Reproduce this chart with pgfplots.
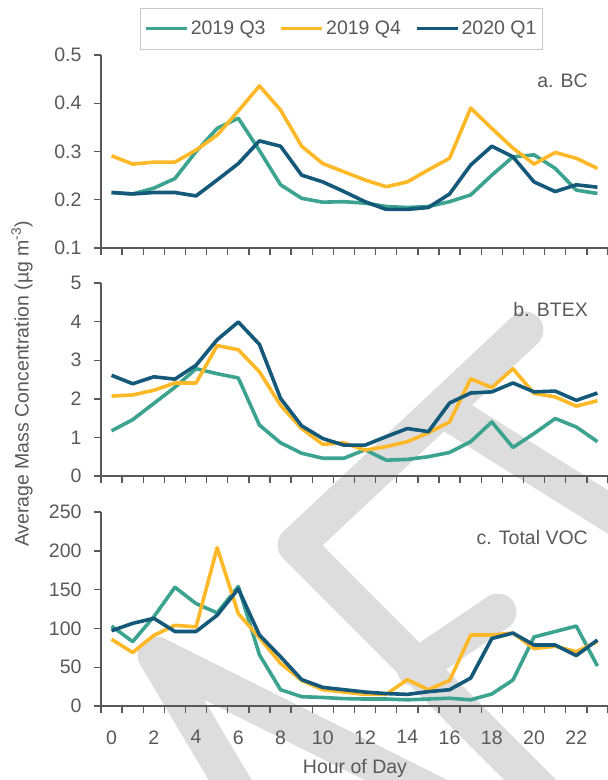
\documentclass[border=0pt]{standalone}
\usepackage{pgfplots}
\pgfplotsset{compat=1.18}
\usepackage{fontspec}
\setmainfont{Liberation Sans}
\definecolor{cQ3}{RGB}{59,163,143}
\definecolor{cQ4}{RGB}{255,185,40}
\definecolor{cQ1}{RGB}{20,88,122}
\definecolor{axgray}{RGB}{89,89,89}
\definecolor{wm}{RGB}{221,221,221}
\definecolor{lgborder}{RGB}{200,200,200}
\newcommand{\ff}{\fontsize{19.5}{22}\selectfont}

\pgfplotstableread{
h bcA bcB bcC btA btB btC vA vB vC
0 0.215 0.291 0.215 1.17 2.07 2.61 103 86 97
1 0.212 0.274 0.212 1.46 2.10 2.39 83 69 106.5
2 0.224 0.278 0.215 1.88 2.22 2.57 115 91 113
3 0.244 0.278 0.215 2.30 2.41 2.51 153 104 96
4 0.300 0.303 0.208 2.78 2.41 2.87 132 102 96
5 0.348 0.334 0.241 2.65 3.38 3.53 120 204 117
6 0.369 0.384 0.275 2.54 3.27 3.99 154 119 151
7 0.302 0.436 0.322 1.32 2.70 3.41 66 88 91.5
8 0.231 0.386 0.311 0.86 1.83 2.01 21 55 63.5
9 0.203 0.311 0.251 0.59 1.23 1.30 12 33 34
10 0.195 0.275 0.237 0.46 0.82 0.97 11 21 24
11 0.196 0.258 0.217 0.46 0.86 0.80 9.5 18 21
12 0.193 0.241 0.196 0.68 0.67 0.80 9 15 18
13 0.186 0.227 0.180 0.41 0.76 1.02 9 15 16
14 0.184 0.237 0.180 0.43 0.89 1.23 8 34 15
15 0.186 0.262 0.184 0.50 1.12 1.15 9 21 18.5
16 0.196 0.286 0.212 0.61 1.40 1.89 10 33 21
17 0.210 0.390 0.272 0.89 2.52 2.15 8 91.5 36
18 0.251 0.348 0.311 1.40 2.29 2.18 15.5 91.5 87
19 0.289 0.307 0.289 0.74 2.78 2.41 33.5 94 94
20 0.293 0.274 0.237 1.10 2.14 2.18 89 74 78.6
21 0.265 0.298 0.217 1.49 2.05 2.20 96 77 78.6
22 0.220 0.286 0.231 1.27 1.81 1.96 103 70 65
23 0.213 0.265 0.226 0.89 1.95 2.15 51.5 83 85
}\data

\tikzset{ptitle/.style={anchor=east, inner sep=0pt, font=\ff, text=axgray}}
\pgfplotsset{
  panel/.style={
    scale only axis, width=507pt, anchor=south west,
    xmin=-0.5, xmax=23.5,
    axis x line*=bottom, axis y line*=left,
    axis line style={axgray, line width=1.8pt},
    xtick={-0.5,0.5,...,23.5}, xticklabels={},
    tick align=outside,
    major tick length=7pt,
    tick style={axgray, line width=1.4pt},
    tick label style={font=\ff, text=axgray},
    yticklabel style={xshift=-9pt},
    /pgf/number format/assume math mode=true,
    every axis plot/.append style={line width=3.6pt, line join=round, no markers},
    clip=false,
  },
}

\begin{document}
\begin{tikzpicture}
\useasboundingbox (0,0) rectangle (608pt,-780pt);
\begin{scope}[x=1pt,y=-1pt]
\clip (0,0) rectangle (608,780);
\draw[wm, line width=37pt, line cap=round, line join=round] (525,330) -- (296,545) -- (575,825);
\draw[wm, line width=37pt, line cap=round, line join=round] (448,412) -- (640,532);
\draw[wm, line width=37pt, line cap=round, line join=round] (498,612) -- (415,668);
\draw[wm, line width=37pt, line cap=round, line join=round] (258,827) -- (156,655) -- (520,837);
\end{scope}

% panel a
\begin{axis}[panel, at={(101pt,-248pt)}, height=193pt,
  ymin=0.1, ymax=0.5, ytick={0.1,0.2,...,0.5},
  yticklabel style={/pgf/number format/fixed, /pgf/number format/precision=1, /pgf/number format/fixed zerofill},
  legend style={at={(0.474,1.137)}, anchor=center, draw=lgborder, line width=0.8pt,
    legend columns=3, font=\ff, text=axgray, inner xsep=4pt, inner ysep=11pt,
    /tikz/every even column/.append style={column sep=12pt}, nodes={inner sep=2pt}},
  legend image code/.code={\draw[#1, line width=3.6pt] (0pt,0pt) -- (41pt,0pt);},
]
\addplot[cQ3] table[x=h, y=bcA] {\data};
\addplot[cQ4] table[x=h, y=bcB] {\data};
\addplot[cQ1] table[x=h, y=bcC] {\data};
\legend{2019 Q3, 2019 Q4, 2020 Q1}
\node[ptitle] at (rel axis cs:0.9606,0.865) {a. BC};
\end{axis}

% panel b
\begin{axis}[panel, at={(101pt,-476pt)}, height=193pt,
  ymin=0, ymax=5, ytick={0,1,...,5}]
\addplot[cQ3] table[x=h, y=btA] {\data};
\addplot[cQ4] table[x=h, y=btB] {\data};
\addplot[cQ1] table[x=h, y=btC] {\data};
\node[ptitle] at (rel axis cs:0.9606,0.865) {b. BTEX};
\end{axis}

% panel c
\begin{axis}[panel, at={(101pt,-706pt)}, height=194pt,
  ymin=0, ymax=250, ytick={0,50,...,250},
  extra x ticks={0,2,...,22},
  extra x tick labels={0,2,4,6,8,10,12,14,16,18,20,22},
  extra x tick style={tick style={draw=none}, xticklabel style={yshift=-14pt}},
]
\addplot[cQ3] table[x=h, y=vA] {\data};
\addplot[cQ4] table[x=h, y=vB] {\data};
\addplot[cQ1] table[x=h, y=vC] {\data};
\node[ptitle] at (rel axis cs:0.9606,0.866) {c. Total VOC};
\end{axis}

\node[rotate=90, font=\ff, text=axgray] at (22pt,-384pt) {Average Mass Concentration (µg m\textsuperscript{-3})};
\node[font=\ff, text=axgray] at (355pt,-768pt) {Hour of Day};
\end{tikzpicture}
\end{document}
